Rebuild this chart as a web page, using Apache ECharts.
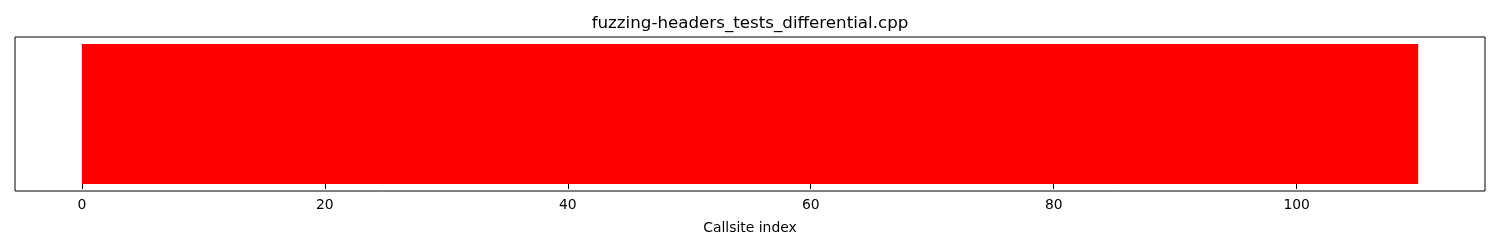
<!DOCTYPE html>
<html>
<head>
<meta charset="utf-8">
<script src="https://cdn.jsdelivr.net/npm/echarts@6/dist/echarts.min.js"></script>
<style>html,body{margin:0;padding:0;background:#fff}#c{width:1500px;height:250px}</style>
</head>
<body>
<div id="c"></div>
<script>
// Callsite hit status (0 = not hit -> red) for 110 callsites
const callsiteHits = Array.from({length: 110}, () => 0);
const xTicks = [0, 20, 40, 60, 80, 100];
const titleText = 'fuzzing-headers_tests_differential.cpp';
const xLabel = 'Callsite index';
const colorHit = '#008000';
const colorMiss = '#ff0000';

const data = callsiteHits.map((h, i) => [i, h]);
const n = callsiteHits.length;
const chart = echarts.init(document.getElementById('c'), null, {renderer: 'canvas'});
const font = 'DejaVu Sans';
chart.setOption({
  animation: false,
  title: {
    text: titleText, left: 'center', top: 10,
    textStyle: {fontFamily: font, fontSize: 16.7, fontWeight: 'normal', color: '#000'}
  },
  grid: {left: 15, right: 15, top: 37, height: 154, show: true, borderColor: '#000', borderWidth: 1, backgroundColor: 'transparent'},
  xAxis: {
    type: 'value', min: -5.5, max: 115.5,
    name: xLabel, nameLocation: 'middle', nameGap: 30,
    nameTextStyle: {fontFamily: font, fontSize: 13.9, color: '#000'},
    axisLine: {show: false},
    splitLine: {show: false},
    axisTick: {show: true, inside: false, length: 5, lineStyle: {color: '#000', width: 1}, customValues: xTicks},
    axisLabel: {fontFamily: font, fontSize: 13.9, color: '#000', margin: 7, customValues: xTicks}
  },
  yAxis: {
    type: 'value', min: -0.05, max: 1.05,
    axisLine: {show: false}, axisTick: {show: false}, axisLabel: {show: false}, splitLine: {show: false}
  },
  series: [{
    type: 'custom',
    data: data,
    renderItem: function (params, api) {
      const i = api.value(0);
      const h = api.value(1);
      const p0 = api.coord([i, 0]);
      const p1 = api.coord([i + 1, 1]);
      const overlap = i < n - 1 ? 1.5 : 0;
      return {
        type: 'rect',
        shape: {x: p0[0], y: p1[1], width: p1[0] - p0[0] + overlap, height: p0[1] - p1[1]},
        style: {fill: h > 0 ? colorHit : colorMiss}
      };
    }
  }]
});
</script>
</body>
</html>
